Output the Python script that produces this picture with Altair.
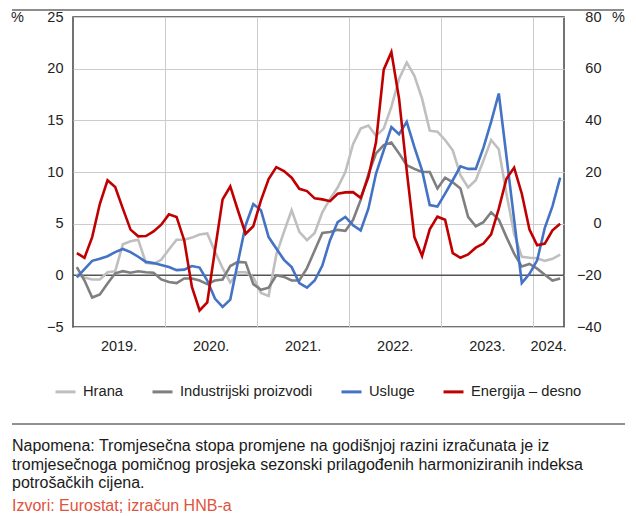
import altair as alt
import pandas as pd

# ---- data (monthly, Jan 2019 - Apr 2024) ----
hrana = [0.1, -0.2, -0.4, -0.4, 0.3, 0.4, 3.0, 3.3, 3.45, 1.2,
         1.1, 1.5, 2.5, 3.45, 3.45, 3.65, 3.95, 4.05, 2.3, 0.7,
         -0.7, 0.3, 0.3, -0.2, -1.7, -2.0, 2.0, 4.2, 6.3, 4.2,
         3.4, 4.1, 6.1, 7.4, 8.5, 10.0, 12.7, 14.2, 14.5, 13.5,
         14.2, 16.3, 19.0, 20.6, 19.3, 17.1, 14.0, 13.9, 13.1, 12.1,
         9.7, 8.5, 9.2, 11.1, 13.1, 12.2, 7.9, 4.0, 1.8, 1.7,
         1.65, 1.4, 1.6, 2.0]
industrijski = [0.8, -0.5, -2.15, -1.85, -0.8, 0.2, 0.4, 0.25, 0.4, 0.3,
                0.25, -0.4, -0.65, -0.75, -0.3, -0.3, -0.5, -0.85, -0.5, -0.4,
                0.9, 1.3, 1.25, -0.85, -1.4, -1.2, 0.0, -0.15, -0.5, -0.5,
                0.7, 2.4, 4.1, 4.2, 4.4, 4.3, 5.35, 7.3, 9.8, 11.8,
                12.6, 12.85, 11.8, 10.65, 10.3, 10.0, 10.0, 8.4, 9.45, 9.0,
                8.4, 5.65, 4.75, 5.15, 6.1, 5.4, 3.7, 2.1, 0.85, 1.1,
                0.65, 0.05, -0.5, -0.3]
usluge = [-0.2, 0.6, 1.4, 1.6, 1.85, 2.25, 2.55, 2.25, 1.8, 1.3,
          1.2, 1.0, 0.8, 0.5, 0.55, 0.9, 0.75, -0.5, -2.25, -3.05,
          -2.35, 1.3, 4.85, 6.9, 6.3, 3.7, 2.6, 1.5, 0.8, -0.75,
          -1.2, -0.5, 0.95, 3.4, 5.15, 5.65, 4.85, 4.35, 6.45, 9.85,
          12.1, 14.35, 13.65, 14.85, 12.4, 10.15, 6.8, 6.65, 7.9, 9.2,
          10.55, 10.3, 10.3, 12.35, 14.85, 17.6, 11.5, 5.4, -0.75, 0.15,
          1.45, 4.6, 6.7, 9.45]
energija = [-11.4, -13.2, -5.2, 7.7, 16.8, 14.2, 5.8, -2.3, -4.9, -4.8,
            -3.0, -0.4, 3.6, 2.6, -6.5, -24.5, -33.6, -30.5, -10.3, 9.4,
            14.4, 5.1, -3.9, -1.0, 9.0, 17.3, 21.9, 20.4, 17.8, 13.5,
            12.6, 9.8, 9.4, 8.7, 11.6, 12.1, 12.2, 10.0, 18.0, 31.6,
            59.6, 66.4, 48.4, 20.5, -5.2, -12.5, -2.2, 2.7, 1.5, -11.4,
            -13.2, -11.9, -9.3, -7.7, -4.1, 5.8, 17.4, 21.7, 11.6, -2.3,
            -8.4, -7.7, -2.6, 0.0]

series_names = ["Hrana", "Industrijski proizvodi", "Usluge", "Energija – desno"]
series_colors = ["#bfbfbf", "#7f7f7f", "#4472c4", "#c00000"]
year_labels = ["2019.", "2020.", "2021.", "2022.", "2023.", "2024."]
left_ticks = [-5, 0, 5, 10, 15, 20, 25]
right_ticks = [-40, -20, 0, 20, 40, 60, 80]
note_lines = [
    "Napomena: Tromjesečna stopa promjene na godišnjoj razini izračunata je iz",
    "tromjesečnoga pomičnog prosjeka sezonski prilagođenih harmoniziranih indeksa",
    "potrošačkih cijena.",
]
source_text = "Izvori: Eurostat; izračun HNB-a"

FONT = "Liberation Sans"
TXT = "#222222"

n = len(hrana)
rows = []
for name, arr in zip(series_names[:3], [hrana, industrijski, usluge]):
    for i, v in enumerate(arr):
        rows.append({"i": i, "v": v, "series": name})
df_left = pd.DataFrame(rows)
df_right = pd.DataFrame({"i": list(range(n)), "r": energija, "series": series_names[3]})

year_bounds = [12 * k - 0.5 for k in range(1, len(year_labels))]
year_pos = []
for k in range(len(year_labels)):
    s = 12 * k - 0.5
    e = min(12 * k + 11.5, n - 0.5)
    year_pos.append((s + e) / 2)
df_years = pd.DataFrame({"pos": year_pos, "label": year_labels})
one = pd.DataFrame({"k": [0]})

x_scale = alt.Scale(domain=[-0.5, n - 0.5], nice=False, zero=False)
x_axis = alt.Axis(values=year_bounds, labels=False, ticks=False, domain=False,
                  grid=True, gridColor="#cccccc", gridWidth=1, title=None)


def X(field):
    return alt.X(f"{field}:Q", scale=x_scale, axis=x_axis)


yl_scale = alt.Scale(domain=[-5, 25], nice=False, zero=False)
yl_axis = alt.Axis(values=left_ticks, title="%", titleAngle=0, titleX=-56, titleY=0,
                   titleAlign="center", titleBaseline="middle", titleFontWeight="normal",
                   titleFontSize=14.5, titleFont=FONT, titleColor=TXT,
                   labelFontSize=14.5, labelFont=FONT, labelColor=TXT, labelPadding=10,
                   ticks=False, domain=False, grid=True, gridColor="#cccccc", gridWidth=1)
yr_axis = alt.Axis(orient="right", values=right_ticks, title="%", titleAngle=0, titleX=54,
                   titleY=0, titleAlign="center", titleBaseline="middle",
                   titleFontWeight="normal", titleFontSize=14.5, titleFont=FONT,
                   titleColor=TXT, labelFontSize=14.5, labelFont=FONT, labelColor=TXT,
                   labelAlign="right", labelPadding=37, ticks=False, domain=False, grid=False)

color_scale = alt.Scale(domain=series_names, range=series_colors)
legend = alt.Legend(orient="none", legendX=-19, legendY=363, direction="horizontal",
                    title=None, symbolType="stroke", symbolStrokeWidth=3, symbolSize=400,
                    labelFontSize=14.7, labelFont=FONT, labelColor=TXT, labelOffset=6,
                    columnPadding=22, symbolOpacity=1)

zero_rule = alt.Chart(pd.DataFrame({"v": [0]})).mark_rule(color="#555555", strokeWidth=1.5).encode(
    y=alt.Y("v:Q", scale=yl_scale, axis=yl_axis))

left_lines = alt.Chart(df_left).mark_line(strokeWidth=2.6).encode(
    x=X("i"),
    y=alt.Y("v:Q", scale=yl_scale, axis=yl_axis),
    color=alt.Color("series:N", scale=color_scale, legend=legend),
)

year_text = alt.Chart(df_years).mark_text(baseline="middle", fontSize=14.5, font=FONT, color=TXT).encode(
    x=X("pos"), y=alt.value(330), text="label:N")

top_rule = alt.Chart(one).mark_rule(color="#8c8c8c", strokeWidth=2).encode(
    x=alt.value(-61), x2=alt.value(551), y=alt.value(-7))
sep_rule = alt.Chart(one).mark_rule(color="#222222", strokeWidth=1).encode(
    x=alt.value(-61), x2=alt.value(552), y=alt.value(407))
note = alt.Chart(one).mark_text(align="left", baseline="alphabetic", fontSize=16, font=FONT,
                                color="#1a1a1a", lineHeight=18.5).encode(
    x=alt.value(-61), y=alt.value(434), text=alt.value(note_lines))
source = alt.Chart(one).mark_text(align="left", baseline="alphabetic", fontSize=16, font=FONT,
                                  color="#e0533d").encode(
    x=alt.value(-61), y=alt.value(494), text=alt.value(source_text))

left = alt.layer(zero_rule, left_lines, year_text, top_rule, sep_rule, note, source)

right_line = alt.Chart(df_right).mark_line(strokeWidth=2.6).encode(
    x=X("i"),
    y=alt.Y("r:Q", scale=alt.Scale(domain=[-40, 80], nice=False, zero=False), axis=yr_axis),
    color=alt.Color("series:N", scale=color_scale, legend=legend),
)

chart = alt.layer(left, right_line).resolve_scale(y="independent").properties(
    width=491, height=310,
    autosize=alt.AutoSizeParams(type="none"),
    padding={"top": 9, "left": 65, "right": 64, "bottom": 187},
).configure_view(stroke="#444444", strokeWidth=1.5)

chart.save("out.html", embed_options={"renderer": "svg", "actions": False})
